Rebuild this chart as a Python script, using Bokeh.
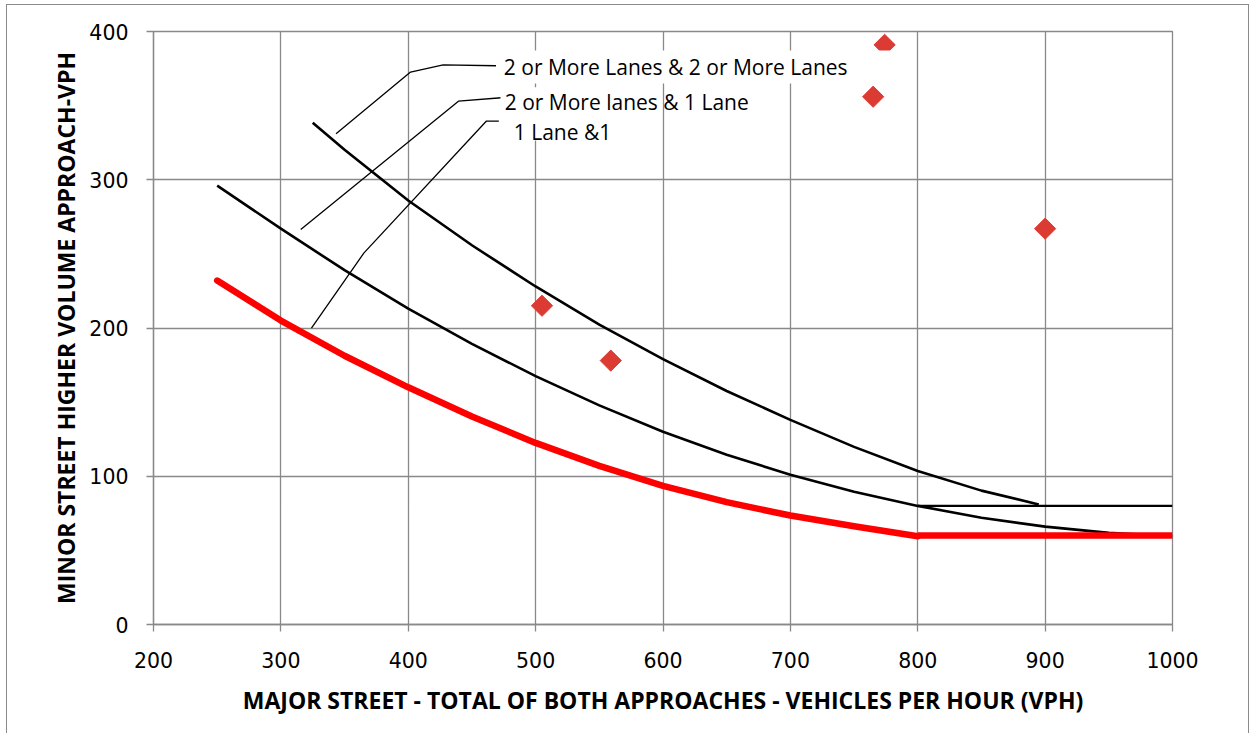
import numpy as np
from bokeh.plotting import figure
from bokeh.models import Range1d, FixedTicker, Label, BoxAnnotation
from bokeh.embed import file_html
from bokeh.resources import INLINE

# ---------------- data ----------------
x_ticks = [200, 300, 400, 500, 600, 700, 800, 900, 1000]
y_ticks = [0, 100, 200, 300, 400]

# 2 or More Lanes & 2 or More Lanes
two_two_x = [325, 350, 400, 450, 500, 550, 600, 650, 700, 750, 800, 850, 895]
two_two_y = [338.5, 320.3, 286, 255.8, 228, 202.3, 179, 157.5, 138, 119.8, 103.5, 90.3, 81]

# 2 or More lanes & 1 Lane
two_one_x = [250, 300, 350, 400, 450, 500, 550, 600, 650, 700, 750, 800, 850, 900, 950, 1000]
two_one_y = [296, 267, 239, 213, 189.3, 167.5, 147.8, 130, 114.5, 101, 89.5, 80, 72, 66, 61.8, 59.5]

# lower limit for 2 or more lanes
floor80_x = [800, 1000]
floor80_y = [80, 80]

# 1 Lane & 1 Lane (red)
one_one_x = [250, 300, 350, 400, 450, 500, 550, 600, 650, 700, 750, 800]
one_one_y = [232, 205, 181.3, 160, 140.3, 122.5, 107, 93.5, 82.5, 73.5, 66.3, 59.5]
floor60_x = [800, 1000]
floor60_y = [60, 60]

# observed volumes
obs_x = [505, 559, 765, 774, 900]
obs_y = [215, 178, 356, 391, 267]

label_texts = ["2 or More Lanes & 2 or More Lanes", "2 or More lanes & 1 Lane", "1 Lane &1"]

# ---------------- annotation geometry (callouts) ----------------
label_pos = [(475.0, 376.2), (475.7, 352.6), (482.8, 332.4)]
leader_xs = [[343.3, 401.8, 427.4, 468.9],
             [315.6, 439.4, 473.0],
             [324.0, 365.1, 461.4, 471.1]]
leader_ys = [[331.0, 372.6, 377.5, 376.9],
             [266.4, 353.0, 355.3],
             [199.9, 250.5, 339.6, 339.6]]
# white text boxes behind the first and third callouts
text_boxes = [dict(left=470.1, right=790.4, bottom=364.9, top=387.2),
              dict(left=472.4, right=574.5, bottom=326.5, top=362.4)]

GRID = "#898989"

p = figure(width=1243, height=729,
           x_range=Range1d(200, 1000), y_range=Range1d(0, 400),
           output_backend="svg", toolbar_location=None,
           min_border_left=146, min_border_right=78,
           min_border_top=26, min_border_bottom=110)
p.styles = {"margin-left": "6px", "margin-top": "4px",
            "border-left": "1px solid #8a8a8a",
            "border-top": "1px solid #8a8a8a",
            "border-right": "1px solid #8a8a8a"}

p.outline_line_color = GRID
p.outline_line_width = 1.3

p.xaxis.ticker = FixedTicker(ticks=x_ticks, minor_ticks=[])
p.yaxis.ticker = FixedTicker(ticks=y_ticks, minor_ticks=[])
p.xgrid.ticker = FixedTicker(ticks=x_ticks, minor_ticks=[])
p.ygrid.ticker = FixedTicker(ticks=y_ticks, minor_ticks=[])
for g in (p.xgrid, p.ygrid):
    g.grid_line_color = GRID
    g.grid_line_width = 1.3

for ax in (p.xaxis, p.yaxis):
    ax.axis_line_color = GRID
    ax.axis_line_width = 1.3
    ax.major_tick_line_color = GRID
    ax.major_tick_line_width = 1.3
    ax.major_tick_out = 7
    ax.major_tick_in = 0
    ax.minor_tick_line_color = None
    ax.major_label_text_font = "DejaVu Sans"
    ax.major_label_text_font_size = "20.5px"
    ax.major_label_text_color = "#000000"
    ax.axis_label_text_font = "Open Sans"
    ax.axis_label_text_font_style = "bold"
    ax.axis_label_text_font_size = "23px"
    ax.axis_label_text_color = "#000000"

p.xaxis.axis_label = "MAJOR STREET - TOTAL OF BOTH APPROACHES - VEHICLES PER HOUR (VPH)"
p.yaxis.axis_label = "MINOR STREET HIGHER VOLUME APPROACH-VPH"
p.xaxis.major_label_standoff = 20
p.yaxis.major_label_standoff = 18
p.xaxis.axis_label_standoff = 13
p.yaxis.axis_label_standoff = 4

# curves
p.line(two_two_x, two_two_y, line_color="black", line_width=2.6, line_join="round")
p.line(two_one_x, two_one_y, line_color="black", line_width=2.6, line_join="round")
p.line(floor80_x, floor80_y, line_color="black", line_width=2.3)
p.line(one_one_x, one_one_y, line_color="#ff0000", line_width=6.5,
       line_cap="round", line_join="round")
p.line(floor60_x, floor60_y, line_color="#ff0000", line_width=6.5)

# observations
p.scatter(obs_x, obs_y, marker="square", angle=np.pi / 4, size=15,
          fill_color="#dc3b34", line_color="#dc3b34")

# callout leader lines
for xs, ys in zip(leader_xs, leader_ys):
    p.line(xs, ys, line_color="black", line_width=1.3)

# callout text boxes and texts
for b in text_boxes:
    p.add_layout(BoxAnnotation(fill_color="white", fill_alpha=1.0, line_color=None, **b))
for txt, (lx, ly) in zip(label_texts, label_pos):
    p.add_layout(Label(x=lx, y=ly, text=txt, text_font="Open Sans",
                       text_font_size="21px", text_color="black",
                       text_align="left", text_baseline="middle"))

open("out.html", "w").write(file_html(p, INLINE))
